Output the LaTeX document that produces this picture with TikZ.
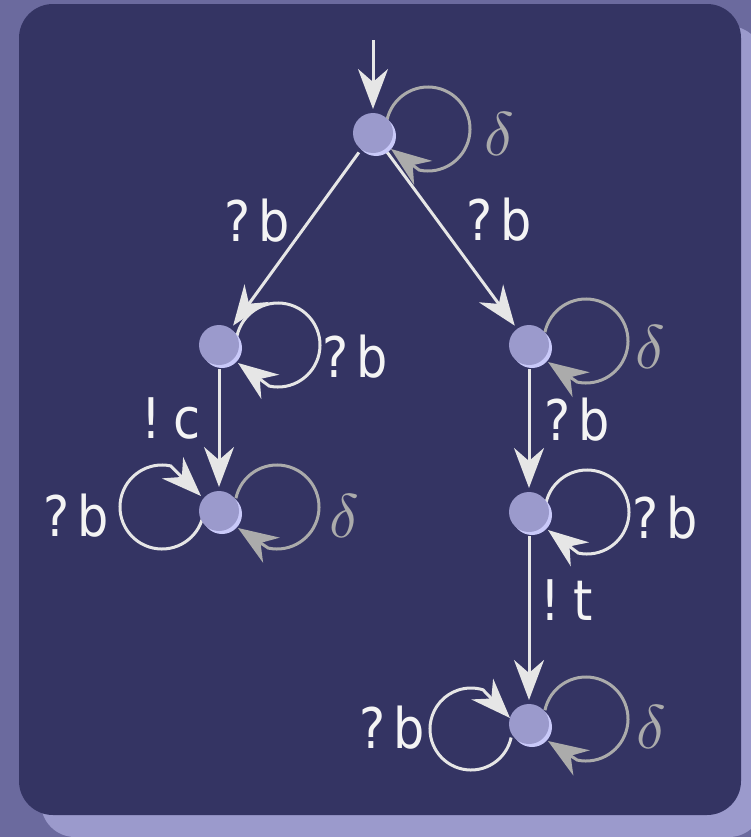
\documentclass[tikz,border=0pt]{standalone}
\usepackage{fontspec}
\usetikzlibrary{arrows.meta,calc,shadows}
\newfontfamily\labfont[FakeStretch=0.88]{DejaVu Sans}
\definecolor{outerbg}{HTML}{6B6A9E}
\definecolor{shadowbg}{HTML}{9B9ACC}
\definecolor{panel}{HTML}{343463}
\definecolor{statefill}{HTML}{9B9ACC}
\definecolor{stateshadow}{HTML}{C9C9F9}
\definecolor{edgecol}{HTML}{E6E6E6}
\definecolor{deltacol}{HTML}{ABABAB}
\definecolor{textcol}{HTML}{F4F4F4}
\pgfdeclarelayer{bgl}
\pgfdeclarelayer{edges}
\pgfsetlayers{bgl,edges,main}
\tikzset{
  state/.style={circle, fill=statefill, minimum size=40bp, inner sep=0pt, outer sep=4bp,
    drop shadow={fill=stateshadow, opacity=1, shadow xshift=3bp, shadow yshift=-3bp}},
  tr/.style={draw=edgecol, line width=3bp, -{Stealth[length=40bp,width=30bp,inset=13bp]}},
  dl/.style={draw=deltacol, line width=3bp, -{Stealth[length=40bp,width=30bp,inset=13bp]}},
  lab/.style={text=textcol, font=\labfont\fontsize{56bp}{60bp}\selectfont, inner sep=0pt},
  dlab/.style={text=deltacol, inner sep=0pt},
}
\newcommand\dsym{\scalebox{6.2}{$\delta$}}
\begin{document}
\begin{tikzpicture}[x=1bp,y=-1bp]
\useasboundingbox (0,0) rectangle (751,837);
\begin{pgfonlayer}{bgl}
\fill[outerbg] (0,0) rectangle (751,837);
\fill[shadowbg, rounded corners=34bp] (41,26) rectangle (763,837);
\fill[panel, rounded corners=34bp] (19,4) rectangle (741,815);
\end{pgfonlayer}

% states
\node[state] (n0) at (373,133) {};
\node[state] (n1) at (219,345) {};
\node[state] (n2) at (529,345) {};
\node[state] (n3) at (219,511) {};
\node[state] (n4) at (529,512) {};
\node[state] (n5) at (529,724) {};
\coordinate (init) at (373,40);

\begin{pgfonlayer}{edges}
% straight transitions
\draw[tr] (init) -- (n0);
\draw[tr] (n0) -- (n1);
\draw[tr] (n0) -- (n2);
\draw[tr] (n1) -- (n3);
\draw[tr] (n2) -- (n4);
\draw[tr] (n4) -- (n5);
% right loops
\draw[dl] ($(n0)+(55,-4)$) ++(192:42) arc[start angle=192, end angle=462, radius=42] -- ($(n0)+(18,16)$);
\draw[tr] ($(n1)+(59,0)$) ++(192:42) arc[start angle=192, end angle=462, radius=42] -- ($(n1)+(19,18)$);
\draw[dl] ($(n2)+(57,-4)$) ++(192:42) arc[start angle=192, end angle=462, radius=42] -- ($(n2)+(19,17)$);
\draw[dl] ($(n3)+(58,-4)$) ++(192:42) arc[start angle=192, end angle=462, radius=42] -- ($(n3)+(19,17)$);
\draw[tr] ($(n4)+(58,0)$) ++(192:42) arc[start angle=192, end angle=462, radius=42] -- ($(n4)+(19,18)$);
\draw[dl] ($(n5)+(57,-5)$) ++(192:42) arc[start angle=192, end angle=462, radius=42] -- ($(n5)+(19,17)$);
% left loops
\draw[tr] ($(n3)+(-57,-4)$) ++(12:42) arc[start angle=12, end angle=282, radius=42] -- ($(n3)+(-18,-15)$);
\draw[tr] ($(n5)+(-58,5)$) ++(12:41) arc[start angle=12, end angle=287, radius=41] -- ($(n5)+(-19,-6)$);
\end{pgfonlayer}

% labels
\node[lab] (l01) at (257,221) {?\kern8bp b};
\node[lab] (l02) at (499,220) {?\kern8bp b};
\node[lab] (l11) at (355,357) {?\kern8bp b};
\node[lab] (l13) at (171,418) {!\kern13bp c};
\node[lab] (l24) at (577,420) {?\kern8bp b};
\node[lab] (l33) at (76,516) {?\kern8bp b};
\node[lab] (l44) at (665,518) {?\kern8bp b};
\node[lab] (l45) at (567,600) {!\kern13bp t};
\node[lab] (l55) at (392,728) {?\kern8bp b};
\node[dlab] (d0) at (499,134) {\dsym};
\node[dlab] (d2) at (650,347) {\dsym};
\node[dlab] (d3) at (344,516) {\dsym};
\node[dlab] (d5) at (651,727) {\dsym};
\end{tikzpicture}
\end{document}
